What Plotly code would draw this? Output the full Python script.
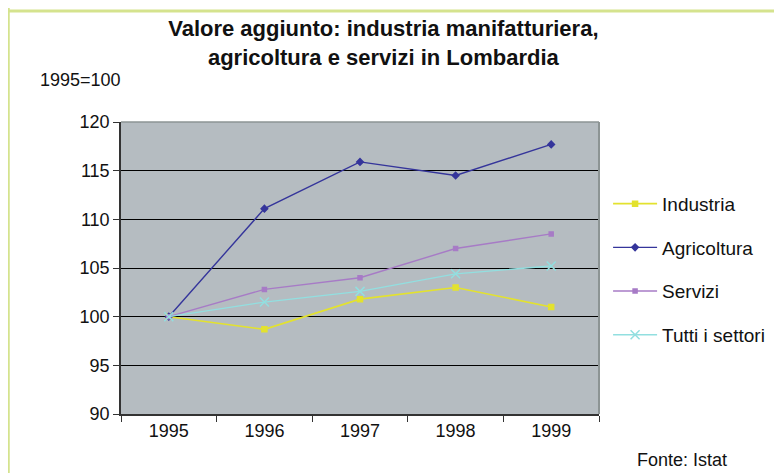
import plotly.graph_objects as go

years = ["1995", "1996", "1997", "1998", "1999"]
industria = [100.0, 98.7, 101.8, 103.0, 101.0]
agricoltura = [100.0, 111.1, 115.9, 114.5, 117.7]
servizi = [100.0, 102.8, 104.0, 107.0, 108.5]
tutti = [100.0, 101.5, 102.6, 104.4, 105.2]

series = [
    ("Industria", industria, "#e3e22e", "square", 5, 1.6),
    ("Agricoltura", agricoltura, "#35359b", "diamond", 5, 1.4),
    ("Servizi", servizi, "#a77bc6", "square", 4, 1.4),
    ("Tutti i settori", tutti, "#92dfe0", "x-thin-open", 9, 1.4),
]

fig = go.Figure()
for i, (name, vals, col, sym, sz, w) in enumerate(series):
    fig.add_trace(go.Scatter(
        x=years, y=vals, name=name, mode="lines+markers",
        line=dict(color=col, width=w),
        marker=dict(symbol=sym, size=sz, color=col, line=dict(color=col, width=1.5)),
        legendgroup=f"g{i}",
    ))

font = "Liberation Sans, Arial, sans-serif"
L, T, PW, PH = 113, 114, 478, 292
fig.update_layout(
    width=782, height=473,
    margin=dict(l=L, r=782 - L - PW, t=T, b=473 - T - PH),
    paper_bgcolor="white",
    plot_bgcolor="#b5bcc1",
    font=dict(family=font, size=18, color="#111111"),
    title=dict(
        text="<b>Valore aggiunto: industria manifatturiera,<br>agricoltura e servizi in Lombardia</b>",
        x=0.48, xanchor="center", y=0.94, yanchor="top",
        font=dict(size=22, family=font, color="#111111"),
    ),
    showlegend=True,
    legend=dict(
        x=1.019, xanchor="left", y=0.785, yanchor="top",
        font=dict(size=19, family=font),
        tracegroupgap=16, bgcolor="rgba(0,0,0,0)",
        itemwidth=44,
    ),
    xaxis=dict(
        type="category", tickson="boundaries", ticks="outside", ticklen=6,
        tickcolor="#333333", showgrid=False, showline=True, linecolor="#333333",
        linewidth=1.5, range=[-0.5, 4.5], tickfont=dict(size=18), zeroline=False,
    ),
    yaxis=dict(
        range=[90, 120], dtick=5, ticks="outside", ticklen=6, tickcolor="#333333",
        showgrid=True, gridcolor="#000000", gridwidth=1.2, showline=True,
        linecolor="#333333", linewidth=1.5, tickfont=dict(size=18), zeroline=False,
    ),
    annotations=[
        dict(text="1995=100", xref="paper", yref="paper", x=(30 - L) / PW,
             y=(T + PH - 72) / PH, xanchor="left", yanchor="middle",
             showarrow=False, font=dict(size=18)),
        dict(text="Fonte: Istat", xref="paper", yref="paper", x=(627 - L) / PW,
             y=(T + PH - 452) / PH, xanchor="left", yanchor="middle",
             showarrow=False, font=dict(size=18)),
    ],
    shapes=[
        dict(type="line", xref="paper", yref="paper", x0=1, x1=1, y0=0, y1=1,
             line=dict(color="#8c9494", width=2)),
        dict(type="line", xref="paper", yref="paper", x0=0, x1=1, y0=1, y1=1,
             line=dict(color="#8c9494", width=1.5)),
        dict(type="line", xref="paper", yref="paper",
             x0=(0 - L) / PW, x1=(800 - L) / PW,
             y0=(T + PH - 3) / PH, y1=(T + PH - 3) / PH,
             line=dict(color="#d5e38e", width=3)),
        dict(type="line", xref="paper", yref="paper",
             x0=(0.5 - L) / PW, x1=(0.5 - L) / PW,
             y0=(T + PH - 480) / PH, y1=(T + PH - 0) / PH,
             line=dict(color="#d5e38e", width=2.5)),
    ],
)

fig.write_html("out.html")
